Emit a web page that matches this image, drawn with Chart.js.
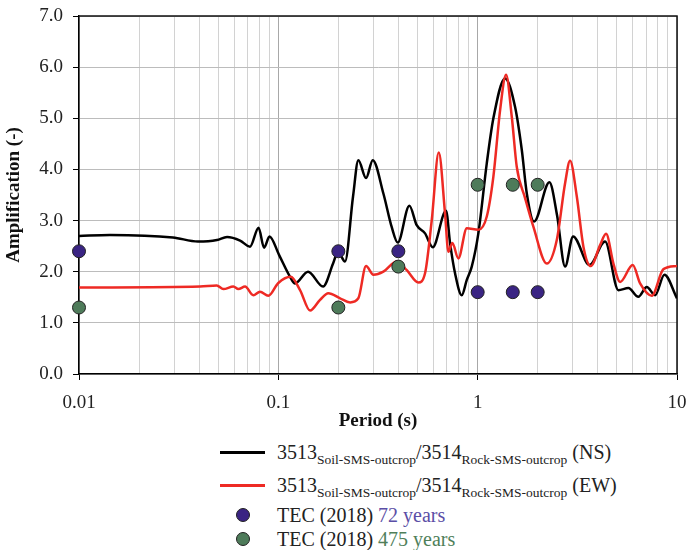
<!DOCTYPE html>
<html>
<head>
<meta charset="utf-8">
<script src="https://cdn.jsdelivr.net/npm/chart.js@4.4.1/dist/chart.umd.min.js"></script>
<style>
  body { margin: 0; background: #fff; }
  #wrap { position: relative; width: 686px; height: 550px; }
  #chart { position: absolute; left: 0; top: 0; }
  .row { position: absolute; left: 0; height: 24px; width: 686px; font: 20px "Liberation Serif", "Times New Roman", serif; color: #222; }
  .row .txt { position: absolute; left: 277px; top: 0; line-height: 24px; white-space: nowrap; }
  .row sub { font-size: 13.5px; vertical-align: -5px; line-height: 0; }
  .line { position: absolute; left: 220px; width: 45px; height: 3px; top: 11px; }
  .dot { position: absolute; left: 236px; top: 5px; width: 14px; height: 14px; border-radius: 50%; border: 1px solid #222; box-sizing: border-box; }
</style>
</head>
<body>
<div id="wrap">
  <canvas id="chart" width="686" height="440"></canvas>
  <div class="row" style="top:440px"><span class="line" style="background:#000"></span><span class="txt">3513<sub>Soil-SMS-outcrop</sub>/3514<sub>Rock-SMS-outcrop</sub> (NS)</span></div>
  <div class="row" style="top:473px"><span class="line" style="background:#ee2a24"></span><span class="txt">3513<sub>Soil-SMS-outcrop</sub>/3514<sub>Rock-SMS-outcrop</sub> (EW)</span></div>
  <div class="row" style="top:503px"><span class="dot" style="background:#3a2483"></span><span class="txt">TEC (2018) <span style="color:#5b4ea6">72 years</span></span></div>
  <div class="row" style="top:527px"><span class="dot" style="background:#4e7b5a"></span><span class="txt">TEC (2018) <span style="color:#4f7f5a">475 years</span></span></div>
</div>
<script>
// NS ratio (black)
const nsPeriod = [0.01, 0.0143, 0.0296, 0.0395, 0.0492, 0.0553, 0.0643, 0.0721, 0.0796, 0.0848,
  0.0903, 0.1008, 0.1145, 0.1213, 0.141, 0.1676, 0.1882, 0.1993, 0.216, 0.237,
  0.252, 0.2754, 0.2977, 0.3365, 0.3707, 0.3972, 0.4543, 0.4946, 0.5445, 0.5952,
  0.694, 0.727, 0.770, 0.832, 0.882, 0.934, 1.008, 1.111, 1.199, 1.372,
  1.541, 1.665, 1.764, 1.919, 2.29, 2.503, 2.745, 3.011, 3.643, 4.357,
  5.08, 5.704, 6.40, 7.056, 7.765, 8.645, 10];
const nsAmp = [2.70, 2.72, 2.67, 2.59, 2.62, 2.68, 2.61, 2.49, 2.86, 2.47,
  2.69, 2.33, 1.90, 1.77, 2.00, 1.71, 2.16, 2.39, 2.20, 3.47,
  4.18, 3.83, 4.18, 3.53, 2.87, 2.57, 3.29, 2.91, 2.75, 2.48,
  3.19, 2.56, 1.97, 1.54, 1.84, 2.10, 2.75, 4.12, 5.00, 5.78,
  5.22, 4.38, 3.53, 2.98, 3.75, 3.10, 2.10, 2.69, 2.13, 2.59,
  1.64, 1.68, 1.51, 1.70, 1.54, 1.94, 1.48];

// EW ratio (red)
const ewPeriod = [0.01, 0.0405, 0.0491, 0.053, 0.0595, 0.063, 0.0681, 0.0749, 0.0809, 0.0891,
  0.1, 0.1154, 0.1285, 0.1443, 0.1619, 0.1782, 0.204, 0.229, 0.252, 0.2754,
  0.2998, 0.3365, 0.3927, 0.441, 0.5041, 0.5445, 0.5884, 0.6379, 0.686, 0.713,
  0.7465, 0.80, 0.882, 1.008, 1.111, 1.199, 1.296, 1.388, 1.483, 1.571,
  1.729, 1.903, 2.222, 2.494, 2.745, 2.908, 3.143, 3.392, 3.694, 4.113,
  4.408, 4.797, 5.183, 6.0, 6.53, 7.474, 8.55, 10];
const ewAmp = [1.69, 1.71, 1.73, 1.66, 1.71, 1.66, 1.71, 1.54, 1.61, 1.53,
  1.78, 1.90, 1.64, 1.24, 1.45, 1.58, 1.48, 1.40, 1.48, 2.11,
  1.94, 2.00, 2.20, 2.03, 1.79, 1.97, 3.01, 4.33, 3.14, 2.39,
  2.56, 2.26, 2.85, 2.82, 3.08, 3.86, 5.16, 5.85, 5.03, 4.05,
  3.44, 2.88, 2.16, 2.62, 3.73, 4.17, 3.47, 2.49, 2.11, 2.52,
  2.74, 2.16, 1.80, 2.13, 1.77, 1.53, 2.05, 2.11];

// TEC (2018) points
const tecPeriod = [0.01, 0.2, 0.4, 1, 1.5, 2];
const tec72Amp = [2.4, 2.4, 2.4, 1.6, 1.6, 1.6];
const tec475Amp = [1.3, 1.3, 2.1, 3.7, 3.7, 3.7];

const yTicks = [0, 1, 2, 3, 4, 5, 6, 7];
const decades = [0.01, 0.1, 1, 10];

const pairs = (xs, ys) => xs.map((x, i) => ({ x: x, y: ys[i] }));
const isDecade = (v) => Math.abs(Math.log10(v) - Math.round(Math.log10(v))) < 1e-6;

const gridPeriods = [];
decades.slice(0, 3).forEach((d) => {
  for (let m = 1; m < 10; m++) gridPeriods.push(+(d * m).toPrecision(3));
});
gridPeriods.push(10);

const serif = '"Liberation Serif", "Times New Roman", serif';

const frame = {
  id: 'frame',
  beforeDatasetsDraw(chart) {
    const { ctx, chartArea: a } = chart;
    ctx.save();
    ctx.strokeStyle = '#111';
    ctx.lineWidth = 1.5;
    ctx.beginPath();
    ctx.moveTo(a.left, a.top);
    ctx.lineTo(a.right, a.top);
    ctx.lineTo(a.right, a.bottom);
    ctx.stroke();
    ctx.restore();
  }
};

new Chart(document.getElementById('chart'), {
  type: 'line',
  data: {
    datasets: [
      {
        label: 'TEC (2018) 72 years',
        type: 'scatter',
        data: pairs(tecPeriod, tec72Amp),
        pointRadius: 6.5,
        pointBackgroundColor: '#3a2483',
        pointBorderColor: '#222',
        pointBorderWidth: 1,
        clip: false,
        order: 0,
      },
      {
        label: 'TEC (2018) 475 years',
        type: 'scatter',
        data: pairs(tecPeriod, tec475Amp),
        pointRadius: 6.5,
        pointBackgroundColor: '#4e7b5a',
        pointBorderColor: '#222',
        pointBorderWidth: 1,
        clip: false,
        order: 0,
      },
      {
        label: 'EW',
        data: pairs(ewPeriod, ewAmp),
        borderColor: '#ee2a24',
        borderWidth: 2.5,
        pointRadius: 0,
        cubicInterpolationMode: 'monotone',
        order: 1,
      },
      {
        label: 'NS',
        data: pairs(nsPeriod, nsAmp),
        borderColor: '#000',
        borderWidth: 2.5,
        pointRadius: 0,
        cubicInterpolationMode: 'monotone',
        order: 2,
      },
    ],
  },
  options: {
    responsive: false,
    animation: false,
    devicePixelRatio: 1,
    layout: { padding: { top: 16, right: 9, left: 0, bottom: 0 } },
    plugins: { legend: { display: false }, tooltip: { enabled: false } },
    scales: {
      x: {
        type: 'logarithmic',
        min: 0.01,
        max: 10,
        afterBuildTicks: (scale) => {
          scale.ticks = gridPeriods.map((v) => ({ value: v }));
        },
        afterFit: (scale) => {
          scale.height = 66;
          scale.paddingLeft = 0;
          scale.paddingRight = 0;
        },
        border: { color: '#000', width: 1.5 },
        grid: {
          color: (c) => (c.tick && isDecade(c.tick.value) ? '#a8a8a8' : '#d2d2d2'),
          lineWidth: 1,
          tickLength: 6,
          tickColor: (c) => (c.tick && isDecade(c.tick.value) ? '#000' : 'rgba(0,0,0,0)'),
        },
        ticks: {
          autoSkip: false,
          maxRotation: 0,
          padding: 12,
          color: '#222',
          font: { family: serif, size: 19 },
          callback: (v) => (isDecade(v) ? String(v) : ''),
        },
        title: {
          display: true,
          text: 'Period (s)',
          color: '#111',
          font: { family: serif, size: 19, weight: 'bold' },
          padding: { top: 0, bottom: 8 },
        },
      },
      y: {
        min: 0,
        max: 7,
        afterBuildTicks: (scale) => {
          scale.ticks = yTicks.map((v) => ({ value: v }));
        },
        afterFit: (scale) => {
          scale.width = 79;
          scale.paddingTop = 0;
          scale.paddingBottom = 0;
        },
        border: { color: '#000', width: 1.5 },
        grid: { color: '#bcbcbc', lineWidth: 1, tickLength: 6, tickColor: '#000' },
        ticks: {
          padding: 10,
          color: '#222',
          font: { family: serif, size: 19 },
          callback: (v) => v.toFixed(1),
        },
        title: {
          display: true,
          text: 'Amplification (-)',
          color: '#111',
          font: { family: serif, size: 19, weight: 'bold' },
          padding: { top: 3, bottom: 0 },
        },
      },
    },
  },
  plugins: [frame],
});
</script>
</body>
</html>
